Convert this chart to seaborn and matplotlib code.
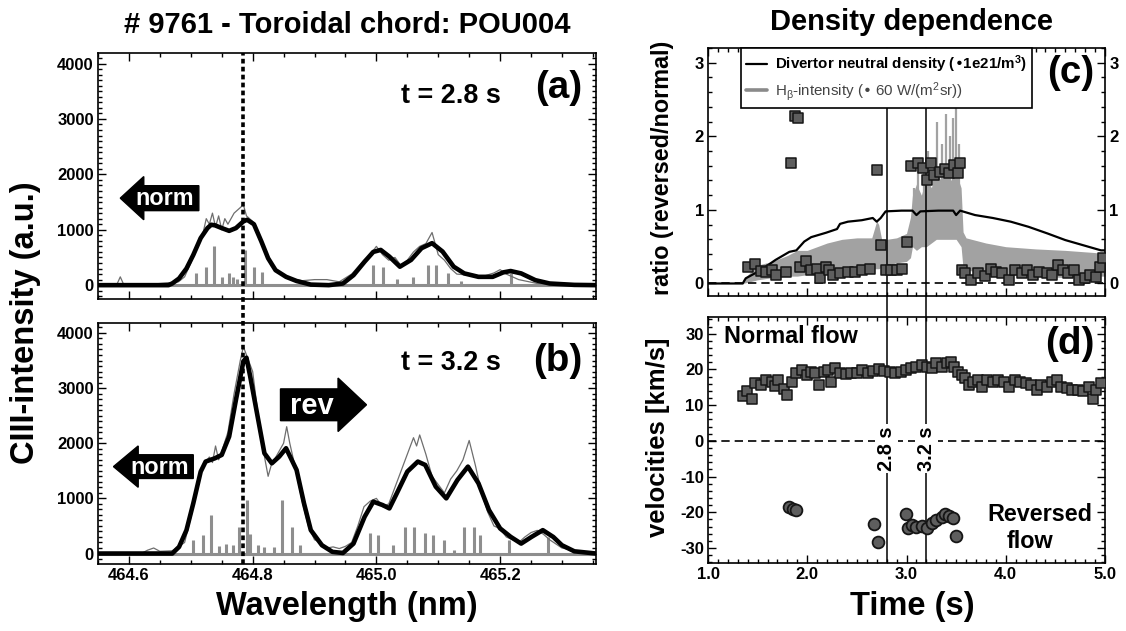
import matplotlib
matplotlib.use("Agg")
import matplotlib.pyplot as plt
import seaborn as sns
import numpy as np
import pandas as pd
from matplotlib import font_manager
from matplotlib.patches import FancyArrow
from matplotlib.lines import Line2D
from matplotlib.ticker import MultipleLocator, FormatStrFormatter

# ---------------- data ----------------
# panel (a)  t = 2.8 s
fit_a_wl = [464.55, 464.664, 464.670, 464.681, 464.693, 464.704, 464.716, 464.727, 464.733, 464.739,
            464.750, 464.762, 464.773, 464.785, 464.791, 464.802, 464.814, 464.825, 464.837, 464.854,
            464.871, 464.894, 464.923, 464.946, 464.963, 464.981, 464.995, 465.007, 465.021, 465.038,
            465.056, 465.073, 465.090, 465.107, 465.125, 465.142, 465.165, 465.188, 465.205, 465.217,
            465.234, 465.257, 465.280, 465.32, 465.355]
fit_a_int = [0, 0, 30, 120, 300, 545, 850, 1030, 1090, 1080,
             1030, 980, 1030, 1150, 1180, 1100, 790, 485, 270, 150,
             75, 10, 0, 30, 180, 424, 600, 636, 515, 333,
             455, 667, 758, 606, 333, 212, 150, 150, 230, 255,
             212, 90, 30, 5, 0]
meas_a_wl = [464.55, 464.58, 464.586, 464.592, 464.62, 464.66, 464.68, 464.69, 464.70, 464.71,
             464.72, 464.725, 464.73, 464.735, 464.74, 464.745, 464.75, 464.755, 464.76, 464.77,
             464.78, 464.785, 464.79, 464.80, 464.81, 464.82, 464.83, 464.84, 464.86, 464.88,
             464.90, 464.92, 464.94, 464.96, 464.98, 464.99, 465.00, 465.01, 465.02, 465.03,
             465.04, 465.05, 465.06, 465.07, 465.08, 465.09, 465.10, 465.11, 465.12, 465.13,
             465.15, 465.17, 465.19, 465.20, 465.21, 465.23, 465.26, 465.30, 465.355]
meas_a_int = [0, 0, 150, 0, 0, 40, 60, 150, 400, 700,
              950, 1200, 1100, 1300, 1050, 1250, 1000, 1200, 1100, 1300,
              1400, 1450, 1250, 1150, 850, 600, 350, 250, 120, 80,
              100, 100, 60, 200, 450, 550, 700, 550, 450, 500,
              350, 450, 600, 700, 750, 950, 550, 450, 300, 200,
              180, 150, 220, 280, 200, 100, 30, 10, 0]
stick_a_wl = [464.709, 464.724, 464.738, 464.750, 464.762, 464.768, 464.775, 464.788, 464.802, 464.815,
              464.995, 465.010, 465.033, 465.059, 465.084, 465.096, 465.116, 465.136, 465.217]
stick_a_h = [212, 333, 700, 150, 212, 150, 120, 636, 333, 230,
             364, 333, 120, 150, 364, 364, 212, 75, 212]

# panel (b)  t = 3.2 s
fit_b_wl = [464.55, 464.66, 464.670, 464.681, 464.693, 464.704, 464.716, 464.724, 464.739, 464.750,
            464.762, 464.773, 464.785, 464.790, 464.796, 464.808, 464.819, 464.831, 464.843, 464.854,
            464.871, 464.883, 464.894, 464.912, 464.929, 464.946, 464.963, 464.981, 464.995, 465.010,
            465.021, 465.033, 465.050, 465.067, 465.079, 465.096, 465.113, 465.131, 465.148, 465.165,
            465.182, 465.200, 465.217, 465.234, 465.251, 465.269, 465.286, 465.30, 465.32, 465.355]
fit_b_int = [0, 0, 0, 120, 424, 909, 1485, 1667, 1727, 1788,
             2121, 2788, 3485, 3550, 3212, 2485, 1818, 1636, 1758, 1909,
             1515, 909, 424, 150, 30, 10, 180, 667, 940, 879,
             818, 1091, 1485, 1667, 1606, 1212, 1000, 1333, 1576, 1273,
             788, 455, 303, 180, 303, 424, 300, 150, 40, 0]
meas_b_wl = [464.55, 464.62, 464.63, 464.64, 464.65, 464.67, 464.69, 464.70, 464.71, 464.72,
             464.73, 464.735, 464.74, 464.745, 464.75, 464.76, 464.77, 464.78, 464.785, 464.79,
             464.80, 464.81, 464.82, 464.825, 464.83, 464.84, 464.85, 464.855, 464.86, 464.87,
             464.88, 464.89, 464.90, 464.91, 464.92, 464.93, 464.94, 464.95, 464.96, 464.97,
             464.98, 464.99, 465.00, 465.01, 465.02, 465.03, 465.04, 465.05, 465.06, 465.065,
             465.07, 465.08, 465.09, 465.10, 465.11, 465.12, 465.13, 465.14, 465.15, 465.16,
             465.17, 465.18, 465.19, 465.20, 465.21, 465.22, 465.23, 465.24, 465.25, 465.26,
             465.27, 465.28, 465.30, 465.33, 465.355]
meas_b_int = [0, 0, 60, 100, 40, 50, 200, 650, 1150, 1600,
              1750, 1650, 1950, 1700, 1850, 2200, 2900, 3500, 3750, 3600,
              3300, 2400, 1700, 1400, 1600, 1800, 2000, 2300, 2000, 1500,
              950, 500, 250, 200, 100, 120, 90, 130, 200, 500,
              850, 950, 1000, 850, 900, 1200, 1500, 1800, 2100, 1950,
              2150, 1800, 1400, 1250, 1100, 1350, 1500, 1700, 2050, 1600,
              1100, 750, 500, 450, 300, 250, 200, 300, 380, 420,
              350, 250, 100, 30, 20]
stick_b_wl = [464.704, 464.719, 464.732, 464.745, 464.757, 464.768, 464.778, 464.791, 464.796, 464.808,
              464.819, 464.834, 464.848, 464.863, 464.877, 464.989, 465.003, 465.027, 465.047, 465.061,
              465.079, 465.091, 465.110, 465.126, 465.142, 465.158, 465.168, 465.214, 465.277]
stick_b_h = [240, 333, 700, 133, 180, 150, 485, 970, 360, 150,
             120, 120, 970, 485, 150, 364, 333, 150, 485, 485,
             364, 333, 240, 60, 485, 485, 333, 240, 300]
ref_wavelength = 464.784

wl_ticks = [464.6, 464.8, 465.0, 465.2]

# panel (c)
nd_t = [1.0, 1.35, 1.38, 1.53, 1.68, 1.82, 1.89, 1.97, 2.04, 2.19,
        2.30, 2.33, 2.41, 2.55, 2.66, 2.70, 2.74, 2.79, 2.95, 3.06,
        3.10, 3.14, 3.32, 3.47, 3.50, 3.54, 3.69, 3.87, 4.05, 4.23,
        4.42, 4.60, 4.78, 4.96, 5.0]
nd_v = [0.0, 0.0, 0.07, 0.18, 0.32, 0.43, 0.45, 0.57, 0.63, 0.69,
        0.74, 0.81, 0.84, 0.86, 0.89, 0.84, 0.89, 0.98, 0.99, 0.99,
        0.93, 0.98, 0.99, 0.99, 0.93, 0.99, 0.93, 0.89, 0.84, 0.77,
        0.68, 0.59, 0.52, 0.45, 0.45]
hb_t = [1.35, 1.5, 1.65, 1.8, 1.9, 2.0, 2.1, 2.2, 2.35, 2.5,
        2.65, 2.70, 2.72, 2.75, 2.8, 2.9, 3.0, 3.04, 3.06, 3.1,
        3.15, 3.2, 3.25, 3.3, 3.35, 3.4, 3.45, 3.5, 3.55, 3.57,
        3.6, 3.8, 4.0, 4.3, 4.6, 4.9, 5.0]
hb_up = [0.05, 0.25, 0.3, 0.38, 0.45, 0.45, 0.5, 0.55, 0.6, 0.62,
         0.62, 0.85, 0.8, 0.6, 0.6, 0.62, 0.68, 0.9, 1.2, 1.35,
         1.2, 1.45, 1.3, 1.5, 1.4, 1.55, 1.4, 1.5, 1.3, 0.7,
         0.62, 0.55, 0.5, 0.47, 0.45, 0.42, 0.4]
hb_low = [0.0, 0.05, 0.08, 0.1, 0.1, 0.12, 0.13, 0.15, 0.18, 0.2,
          0.2, 0.2, 0.2, 0.22, 0.25, 0.28, 0.3, 0.35, 0.5, 0.45,
          0.5, 0.5, 0.55, 0.6, 0.6, 0.6, 0.6, 0.6, 0.5, 0.2,
          0.18, 0.15, 0.12, 0.1, 0.08, 0.1, 0.1]
hb_spike_t = [3.08, 3.12, 3.18, 3.22, 3.28, 3.31, 3.36, 3.40, 3.44, 3.47, 3.50, 3.53]
hb_spike_v = [1.3, 1.6, 1.5, 1.8, 1.7, 2.2, 1.9, 2.3, 2.0, 2.25, 2.4, 1.9]
ratio_t = [1.40, 1.47, 1.53, 1.58, 1.64, 1.69, 1.79, 1.84, 1.88, 1.91,
           1.93, 1.99, 2.04, 2.10, 2.13, 2.19, 2.22, 2.26, 2.33, 2.41,
           2.48, 2.55, 2.63, 2.70, 2.74, 2.79, 2.84, 2.90, 2.95, 3.01,
           3.05, 3.12, 3.17, 3.21, 3.25, 3.28, 3.34, 3.39, 3.43, 3.48,
           3.52, 3.54, 3.56, 3.59, 3.65, 3.72, 3.79, 3.85, 3.90, 3.96,
           4.03, 4.09, 4.16, 4.21, 4.27, 4.34, 4.42, 4.47, 4.53, 4.58,
           4.63, 4.69, 4.74, 4.80, 4.85, 4.91, 4.95, 4.98]
ratio_v = [0.23, 0.27, 0.17, 0.16, 0.19, 0.11, 0.16, 1.64, 2.28, 2.25,
           0.23, 0.30, 0.19, 0.20, 0.07, 0.23, 0.18, 0.11, 0.14, 0.16,
           0.16, 0.18, 0.20, 1.54, 0.52, 0.18, 0.18, 0.19, 0.20, 0.57,
           1.59, 1.64, 1.57, 1.41, 1.64, 1.48, 1.52, 1.55, 1.50, 1.61,
           1.50, 1.64, 0.18, 0.14, 0.05, 0.14, 0.10, 0.20, 0.16, 0.14,
           0.05, 0.18, 0.14, 0.18, 0.11, 0.16, 0.14, 0.11, 0.25, 0.18,
           0.14, 0.18, 0.05, 0.07, 0.11, 0.09, 0.23, 0.34]

# panel (d)
vn_t = [1.35, 1.39, 1.44, 1.47, 1.53, 1.58, 1.64, 1.68, 1.71, 1.77,
        1.80, 1.85, 1.89, 1.95, 2.00, 2.04, 2.08, 2.12, 2.17, 2.21,
        2.24, 2.28, 2.33, 2.39, 2.44, 2.50, 2.55, 2.61, 2.66, 2.72,
        2.77, 2.83, 2.88, 2.94, 2.99, 3.05, 3.10, 3.16, 3.21, 3.26,
        3.30, 3.36, 3.41, 3.45, 3.48, 3.52, 3.56, 3.59, 3.63, 3.67,
        3.72, 3.76, 3.81, 3.87, 3.92, 3.98, 4.03, 4.09, 4.14, 4.20,
        4.25, 4.31, 4.36, 4.42, 4.47, 4.52, 4.56, 4.62, 4.67, 4.73,
        4.78, 4.84, 4.88, 4.91, 4.96]
vn_v = [12.5, 14.1, 11.7, 16.2, 15.7, 17.1, 16.6, 15.4, 17.1, 14.5,
        12.9, 16.6, 19.1, 19.9, 18.5, 19.4, 18.9, 15.7, 19.4, 19.9,
        16.6, 20.3, 19.1, 18.7, 18.9, 18.9, 19.9, 19.1, 19.7, 20.0,
        19.7, 19.4, 19.1, 19.4, 19.9, 20.3, 20.8, 21.2, 20.8, 20.3,
        21.7, 20.8, 21.7, 22.2, 20.8, 19.4, 18.5, 17.5, 15.7, 16.6,
        17.1, 15.1, 17.1, 16.6, 17.1, 16.6, 15.1, 17.1, 16.6, 16.2,
        15.7, 14.3, 15.7, 15.2, 16.6, 17.1, 15.2, 14.8, 14.3, 14.3,
        13.9, 15.2, 11.7, 14.3, 16.2]
vr_t = [1.82, 1.86, 1.89, 2.67, 2.71, 2.99, 3.02, 3.06, 3.10, 3.16,
        3.21, 3.26, 3.30, 3.36, 3.39, 3.43, 3.47, 3.50]
vr_v = [-18.5, -19.1, -19.4, -23.4, -28.2, -20.6, -24.5, -23.5, -24.0, -23.7,
        -24.3, -23.1, -22.2, -21.2, -20.6, -21.0, -21.5, -26.5]
mark_times = [2.8, 3.2]
mark_labels = ["2.8 s", "3.2 s"]

# ---------------- style ----------------
sns.set_style("ticks")
names = {f.name for f in font_manager.fontManager.ttflist}
if "Liberation Sans Narrow" in names:
    FAM, K = "Liberation Sans Narrow", 1.0
else:
    FAM, K = "Liberation Sans", 0.84
plt.rcParams["font.family"] = [FAM, "DejaVu Sans"]
plt.rcParams["font.weight"] = "bold"
plt.rcParams["mathtext.default"] = "regular"
plt.rcParams["text.color"] = "black"
plt.rcParams["axes.edgecolor"] = "black"
plt.rcParams["xtick.color"] = "black"
plt.rcParams["ytick.color"] = "black"


def fs(x):
    return x * K


W, H = 1126, 631
fig = plt.figure(figsize=(W / 100, H / 100), dpi=100)
fig.patch.set_facecolor("white")


def rect(l, t, r, b):
    return [l / W, 1 - b / H, (r - l) / W, (b - t) / H]


def px2fig(x, y):
    return x / W, 1 - y / H


ax_a = fig.add_axes(rect(98, 53, 596, 299))
ax_b = fig.add_axes(rect(98, 323, 596, 564))
ax_c = fig.add_axes(rect(708, 48, 1105, 296))
ax_d = fig.add_axes(rect(708, 317, 1105, 563))

GRAY = "#8e8e8e"


def style(ax, xmaj, xmin, ymaj, ymin):
    ax.xaxis.set_major_locator(MultipleLocator(xmaj))
    ax.xaxis.set_minor_locator(MultipleLocator(xmin))
    ax.yaxis.set_major_locator(MultipleLocator(ymaj))
    ax.yaxis.set_minor_locator(MultipleLocator(ymin))
    ax.tick_params(which="both", direction="in", top=True, right=True,
                   width=1.0, labelsize=12, pad=3)
    ax.tick_params(which="major", length=6)
    ax.tick_params(which="minor", length=3)
    for s in ax.spines.values():
        s.set_linewidth(1.2)
        s.set_color("black")
    ax.set_xlabel("")
    ax.set_ylabel("")


def spectrum(ax, fwl, fint, mwl, mint, swl, sh, ylim):
    ax.axhline(0, color=GRAY, lw=2.2, zorder=1)
    ax.vlines(swl, 0, sh, color=GRAY, lw=2.2, zorder=2)
    sns.lineplot(x=mwl, y=mint, ax=ax, color="#6e6e6e", lw=0.9,
                 estimator=None, sort=False, zorder=3)
    sns.lineplot(x=fwl, y=fint, ax=ax, color="black", lw=3.3,
                 estimator=None, sort=False, zorder=4)
    ax.set_xlim(464.55, 465.355)
    ax.set_ylim(*ylim)
    style(ax, 0.2, 0.05, 1000, 100)
    ax.xaxis.set_major_formatter(FormatStrFormatter("%.1f"))


spectrum(ax_a, fit_a_wl, fit_a_int, meas_a_wl, meas_a_int, stick_a_wl, stick_a_h, (-250, 4190))
spectrum(ax_b, fit_b_wl, fit_b_int, meas_b_wl, meas_b_int, stick_b_wl, stick_b_h, (-190, 4180))
ax_a.tick_params(labelbottom=False)
ax_b.set_xticks(wl_ticks)

# dotted reference line through both spectra
ax_b.axvline(ref_wavelength, ymin=0, ymax=(564 - 53) / (564 - 323), color="black",
             lw=2.6, ls=(0, (1.3, 0.9)), clip_on=False, zorder=6)

# panel texts
ax_a.text(465.12, 3280, "t = 2.8 s", ha="center", va="baseline", fontsize=fs(23))
ax_b.text(465.12, 3320, "t = 3.2 s", ha="center", va="baseline", fontsize=fs(23))
ax_a.text(465.333, 3560, "(a)", ha="right", va="center", fontsize=fs(33))
ax_b.text(465.333, 3500, "(b)", ha="right", va="center", fontsize=fs(33))

# flow arrows
ax_a.add_patch(FancyArrow(464.713, 1570, 464.586 - 464.713, 0, width=450, head_width=780,
                          head_length=0.038, length_includes_head=True, color="black", zorder=7))
ax_a.text(464.658, 1440, "norm", color="white", ha="center", va="baseline", fontsize=fs(20), zorder=8)
ax_b.add_patch(FancyArrow(464.704, 1576, 464.575 - 464.704, 0, width=430, head_width=750,
                          head_length=0.040, length_includes_head=True, color="black", zorder=7))
ax_b.text(464.650, 1446, "norm", color="white", ha="center", va="baseline", fontsize=fs(20), zorder=8)
ax_b.add_patch(FancyArrow(464.845, 2697, 464.984 - 464.845, 0, width=576, head_width=970,
                          head_length=0.046, length_includes_head=True, color="black", zorder=7))
ax_b.text(464.896, 2535, "rev", color="white", ha="center", va="baseline", fontsize=fs(25), zorder=8)

# ---------------- panel (c) ----------------
ax_c.fill_between(hb_t, hb_low, hb_up, color="#a2a2a2", lw=0, zorder=2)
ax_c.vlines(hb_spike_t, 0.6, hb_spike_v, color="#a2a2a2", lw=1.6, zorder=2)
sns.lineplot(x=nd_t, y=nd_v, ax=ax_c, color="black", lw=1.6, estimator=None, sort=False, zorder=3)
ax_c.axhline(0, color="black", lw=1.2, ls=(0, (5, 3)), zorder=3)
sns.scatterplot(x=ratio_t, y=ratio_v, ax=ax_c, marker="s", s=58, color="#5e5e5e",
                edgecolor="#151515", linewidth=1.1, zorder=5)
for t in mark_times:
    ax_c.axvline(t, ymin=-(317 - 296) / (296 - 48), ymax=1, color="black", lw=1.1,
                 clip_on=False, zorder=4)
ax_c.set_xlim(1.0, 5.0)
ax_c.set_ylim(-0.17, 3.2)
style(ax_c, 1.0, 0.1, 1, 0.2)
ax_c.tick_params(labelbottom=False, labelright=True)
ax_c.yaxis.set_major_formatter(FormatStrFormatter("%d"))
ax_c.text(4.89, 2.86, "(c)", ha="right", va="center", fontsize=fs(33), zorder=9)

handles = [Line2D([0], [0], color="black", lw=1.6),
           Line2D([0], [0], color="#8a8a8a", lw=2.6)]
labels = ["Divertor neutral density (•1e21/m$^{3}$)",
          "H$_{\\beta}$-intensity (• 60 W/(m$^{2}$sr))"]
leg = ax_c.legend(handles, labels, loc="upper left", bbox_to_anchor=(0.083, 1.0),
                  borderaxespad=0, frameon=True, fancybox=False, framealpha=1,
                  edgecolor="black", fontsize=fs(13), handlelength=1.4,
                  handletextpad=0.5, labelspacing=0.35, borderpad=0.35)
leg.get_frame().set_linewidth(1.2)
leg.set_zorder(10)
leg.get_texts()[1].set_fontweight("normal")
leg.get_texts()[1].set_color("#444444")

# ---------------- panel (d) ----------------
ax_d.axhline(0, color="black", lw=1.2, ls=(0, (5, 3)), zorder=2)
for t, lab in zip(mark_times, mark_labels):
    ax_d.axvline(t, color="black", lw=1.1, zorder=3)
    ax_d.text(t, -2.2, lab, rotation=90, ha="center", va="center", fontsize=fs(17),
              bbox=dict(facecolor="white", edgecolor="none", pad=1.5), zorder=6)
sns.scatterplot(x=vn_t, y=vn_v, ax=ax_d, marker="s", s=58, color="#5e5e5e",
                edgecolor="#151515", linewidth=1.1, zorder=5)
sns.scatterplot(x=vr_t, y=vr_v, ax=ax_d, marker="o", s=72, color="#5e5e5e",
                edgecolor="#151515", linewidth=1.3, zorder=5)
ax_d.set_xlim(1.0, 5.0)
ax_d.set_ylim(-34.2, 34.7)
style(ax_d, 1.0, 0.1, 10, 2)
ax_d.xaxis.set_major_formatter(FormatStrFormatter("%.1f"))
ax_d.yaxis.set_major_formatter(FormatStrFormatter("%d"))
ax_d.text(1.16, 27.3, "Normal flow", ha="left", va="baseline", fontsize=fs(20))
ax_d.text(4.34, -22.4, "Reversed", ha="center", va="baseline", fontsize=fs(20))
ax_d.text(4.24, -30.0, "flow", ha="center", va="baseline", fontsize=fs(20))
ax_d.text(4.89, 27.0, "(d)", ha="right", va="center", fontsize=fs(33))

# ---------------- titles and axis labels ----------------
fig.text(*px2fig(347, 25), "# 9761 - Toroidal chord: POU004", ha="center", va="center", fontsize=fs(25))
fig.text(*px2fig(912, 22), "Density dependence", ha="center", va="center", fontsize=fs(25))
fig.text(*px2fig(26, 323), "CIII-intensity (a.u.)", rotation=90, ha="center", va="center", fontsize=fs(28))
fig.text(*px2fig(347, 606), "Wavelength (nm)", ha="center", va="center", fontsize=fs(28))
fig.text(*px2fig(912, 606), "Time (s)", ha="center", va="center", fontsize=fs(28))
fig.text(*px2fig(662, 168), "ratio (reversed/normal)", rotation=90, ha="center", va="center", fontsize=fs(20))
fig.text(*px2fig(658, 437), "velocities [km/s]", rotation=90, ha="center", va="center", fontsize=fs(22))

fig.savefig("out.png", dpi=100, facecolor="white")
